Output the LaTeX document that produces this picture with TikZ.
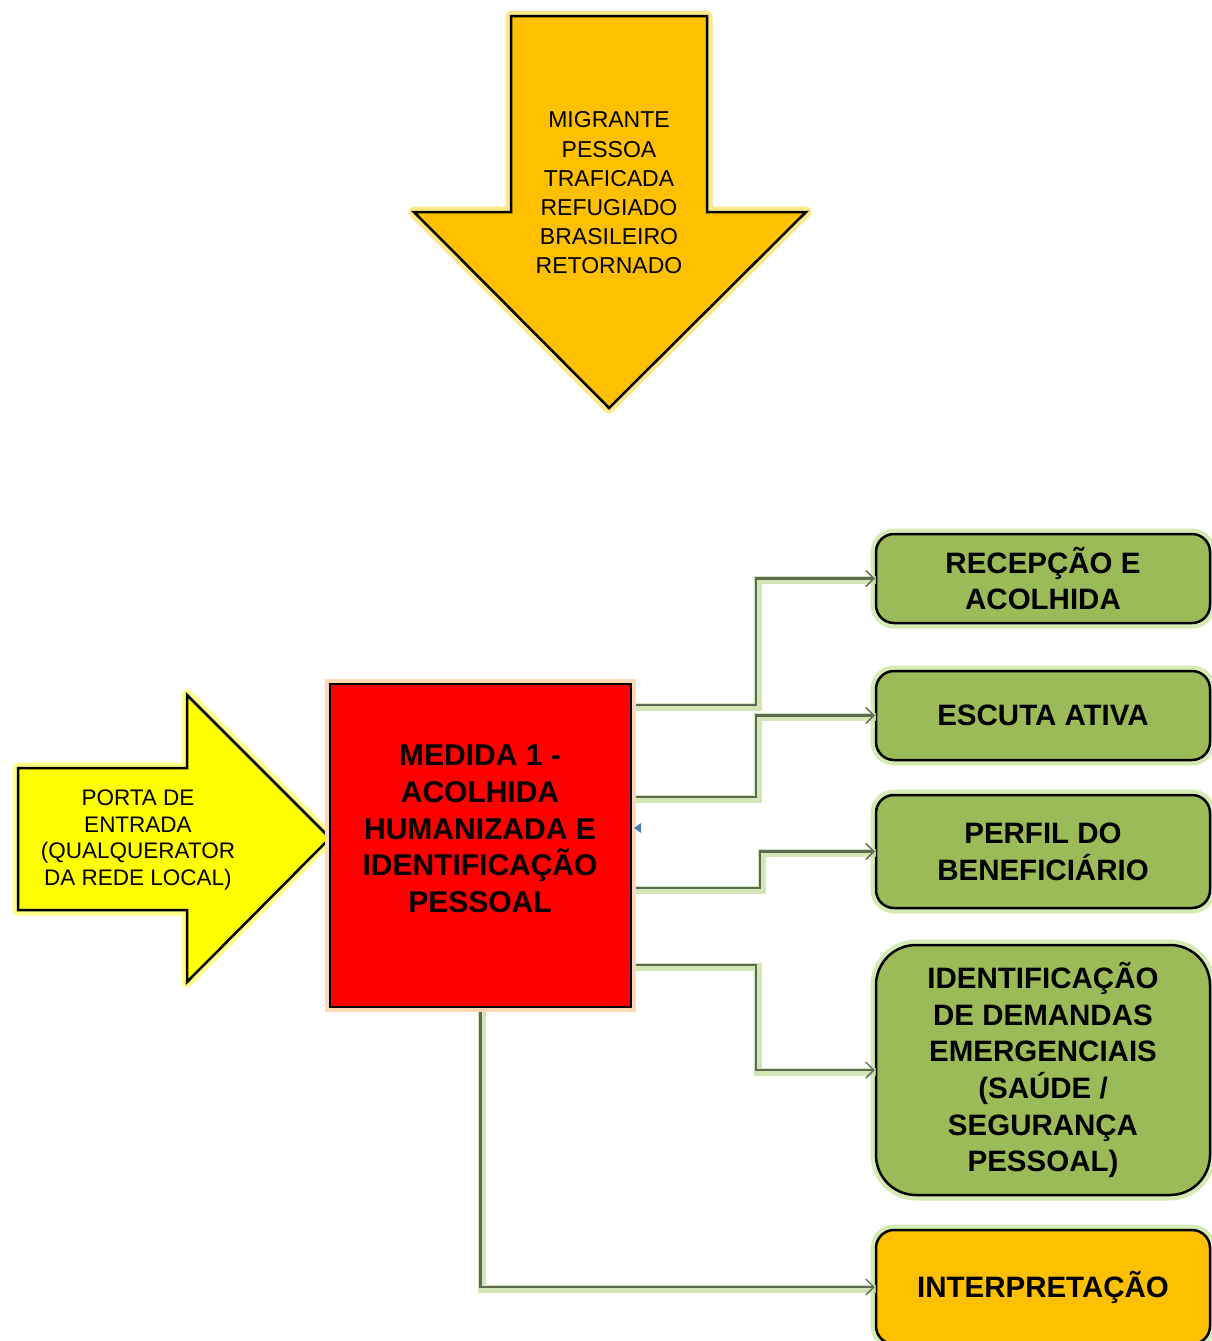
\documentclass[tikz,border=0pt]{standalone}
\usepackage{fontspec}
\setmainfont{Liberation Sans}
\usetikzlibrary{arrows.meta}
\definecolor{gold}{HTML}{FFC000}
\definecolor{ylw}{HTML}{FFFF00}
\definecolor{grn}{HTML}{9BBB59}
\definecolor{connc}{HTML}{5B6A50}
\definecolor{glowg}{HTML}{D6EAB4}
\definecolor{glowc}{HTML}{C8E0A4}
\definecolor{glowy}{HTML}{FFE88A}
\definecolor{glowyl}{HTML}{FFFF88}
\definecolor{glowo}{HTML}{FFD9B3}
\definecolor{bluemark}{HTML}{4A7EBB}
\begin{document}
\begin{tikzpicture}[x=1pt,y=-1pt,
  shapeline/.style={draw=black, line width=2.5pt, line join=miter},
  greenbox/.style={shapeline, fill=grn, rounded corners=18pt, minimum width=334pt,
    align=center, inner sep=0pt, font=\bfseries\fontsize{29.5}{36.7}\selectfont,
    preaction={draw=glowg, line width=11pt}},
  conn/.style={draw=connc, line width=2.2pt, line join=miter,
    -{Straight Barb[length=8pt,width=16pt,line width=1.4pt]},
    preaction={draw=glowc, line width=8pt, opacity=0.8, -, transform canvas={shift={(1.5pt,-1.5pt)}}}},
  bigtxt/.style={align=center, inner sep=0pt, font=\bfseries\fontsize{30}{36.7}\selectfont},
  smalltxt/.style={align=center, inner sep=0pt}
]
\useasboundingbox (0,0) rectangle (1212,1341);
\fill[white] (0,0) rectangle (1212,1341);

% top arrow
\path[shapeline, fill=gold, preaction={draw=glowy, line width=11pt, line join=round}]
  (511,16) -- (707,16) -- (707,212) -- (806,212) -- (609,408) -- (414,212) -- (511,212) -- cycle;
\node[smalltxt, font=\fontsize{23}{29.2}\selectfont] (who) at (609,193)
  {MIGRANTE\\PESSOA\\TRAFICADA\\REFUGIADO\\BRASILEIRO\\RETORNADO};

% left arrow
\path[shapeline, fill=ylw, preaction={draw=glowyl, line width=11pt, line join=round}]
  (18,768) -- (187,768) -- (187,695) -- (330,838) -- (187,982) -- (187,910) -- (18,910) -- cycle;
\node[smalltxt, font=\fontsize{22.5}{26.7}\selectfont] (porta) at (138,840)
  {PORTA DE\\ENTRADA\\(QUALQUERATOR\\DA REDE LOCAL)};

% boxes
\node[minimum width=301pt, minimum height=323pt, inner sep=0pt, outer sep=0pt] (red) at (480.5,845.5) {};
\node[greenbox, minimum height=89pt] (g1) at (1043,578.5) {RECEPÇÃO E\\ACOLHIDA};
\node[greenbox, minimum height=89pt] (g2) at (1043,715.5) {ESCUTA ATIVA};
\node[greenbox, minimum height=113pt] (g3) at (1043,851.5) {PERFIL DO\\BENEFICIÁRIO};
\node[greenbox, minimum height=250pt, rounded corners=40pt] (g4) at (1043,1070)
  {IDENTIFICAÇÃO\\DE DEMANDAS\\EMERGENCIAIS\\(SAÚDE /\\SEGURANÇA\\PESSOAL)};
\node[greenbox, fill=gold, minimum height=114pt] (g5) at (1043,1287) {INTERPRETAÇÃO};

% connectors
\draw[conn] ([yshift=-21pt]red.north east) -- ++(125,0) |- (g1.west);
\draw[conn] ([yshift=-113pt]red.north east) -- ++(125,0) |- (g2.west);
\draw[conn] ([yshift=-204pt]red.north east) -- ++(129,0) |- (g3.west);
\draw[conn] ([yshift=-281pt]red.north east) -- ++(125,0) |- (g4.west);
\draw[conn] (red.south) |- (g5.west);

% red box drawn on top
\path[shapeline, fill=red, preaction={draw=glowo, line width=10pt}]
  (red.north west) rectangle (red.south east);
\node[bigtxt] (medtxt) at (480,829)
  {MEDIDA 1 -\\ACOLHIDA\\HUMANIZADA E\\IDENTIFICAÇÃO\\PESSOAL};
\fill[bluemark] (634,828) -- (641,823) -- (641,833) -- cycle;
\end{tikzpicture}
\end{document}
